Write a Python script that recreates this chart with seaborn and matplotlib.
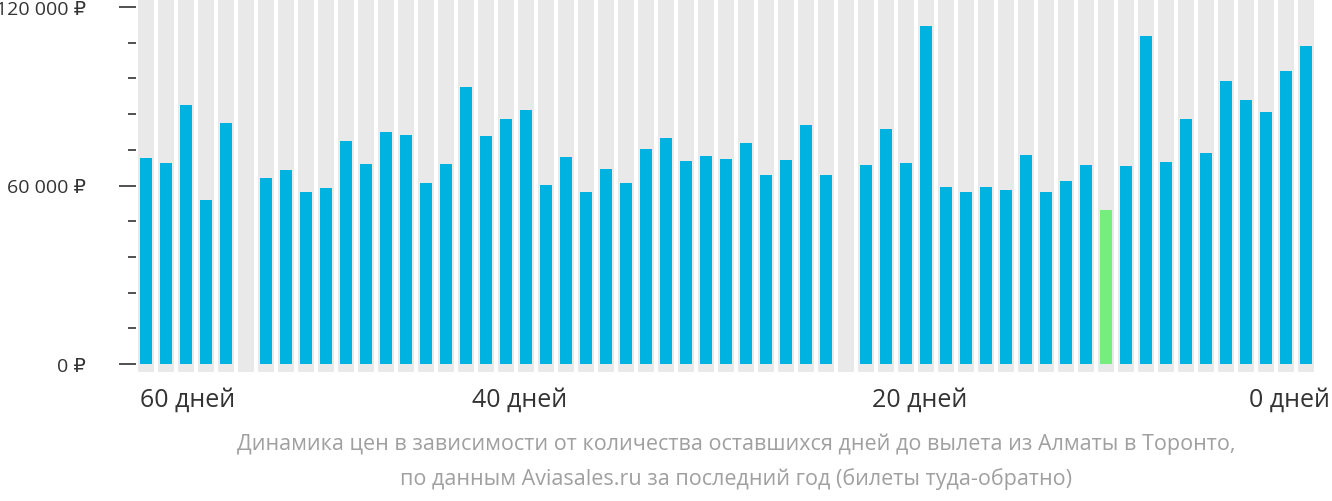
import numpy as np
import pandas as pd
import seaborn as sns
import matplotlib.pyplot as plt
from matplotlib.ticker import FixedLocator, MultipleLocator

plt.rcParams['font.family'] = ['Open Sans', 'DejaVu Sans']

# ---- data (days before departure, 60 -> 0; NaN = no data) ----
prices = [69200, 67600, 87100, 55100, 81000, np.nan, 62500, 65200, 57800, 59200,
          75000, 67200, 78000, 77000, 60800, 67200, 93100, 76600, 82400, 85400,
          60200, 69600, 57800, 65500, 60800, 72300, 76000, 68200, 69900, 68900,
          74300, 63500, 68600, 80300, 63500, np.nan, 66900, 79000, 67600, 113600,
          59500, 57800, 59500, 58500, 70300, 57800, 61500, 66900, 51800, 66600,
          110300, 67900, 82400, 70900, 95100, 88700, 84700, 98500, 106900]
cheapest_idx = 48
day_labels = ['60 дней', '40 дней', '20 дней', '0 дней']
day_label_pos = [0, 18.7, 38.7, 58]
y_labels = ['0 ₽', '60 000 ₽', '120 000 ₽']
y_label_vals = [0, 60000, 120000]
caption = ('Динамика цен в зависимости от количества оставшихся дней до вылета из Алматы в Торонто,\n'
           'по данным Aviasales.ru за последний год (билеты туда-обратно)')

df = pd.DataFrame({'slot': np.arange(len(prices)), 'price': prices})
blue, green, gray_bg = '#00b2df', '#76ee7d', '#e9e9e9'
palette = {i: (green if i == cheapest_idx else blue) for i in df['slot']}

fig = plt.figure(figsize=(13.32, 5.02), dpi=100)
ax = fig.add_axes([136 / 1332, 1 - 373 / 502, 1180 / 1332, 373 / 502])

for i in df['slot']:
    ax.axvspan(i - 0.4, i + 0.4, color=gray_bg, zorder=0, lw=0)

sns.barplot(data=df, x='slot', y='price', hue='slot', palette=palette,
            legend=False, width=0.6, ax=ax, zorder=2, saturation=1)

ax.set_xlim(-0.5, len(prices) - 0.5)
ax.set_ylim(-2700, 122700)
for s in ax.spines.values():
    s.set_visible(False)
ax.set_xlabel('')
ax.set_ylabel('')
ax.set_xticks([])

ax.yaxis.set_major_locator(FixedLocator(y_label_vals))
ax.set_yticklabels(y_labels)
ax.yaxis.set_minor_locator(MultipleLocator(12000))
ax.tick_params(axis='y', which='major', length=12, width=1.2, color='#333333',
               labelsize=14, labelcolor='#333333', pad=24)
ax.tick_params(axis='y', which='minor', length=6, width=1.2, color='#333333')

for lbl, pos in zip(day_labels, day_label_pos):
    if pos == 0:
        ha, x = 'left', -0.3
    elif pos == len(prices) - 1:
        ha, x = 'right', pos + 1.2
    else:
        ha, x = 'center', pos
    ax.text(x, -7500, lbl, ha=ha, va='top', fontsize=18, color='#333333')

fig.text(736 / 1332, 1 - 462 / 502, caption, ha='center', va='center',
         fontsize=15.5, color='#a0a0a0', linespacing=1.75)

fig.savefig('out.png', dpi=100)
